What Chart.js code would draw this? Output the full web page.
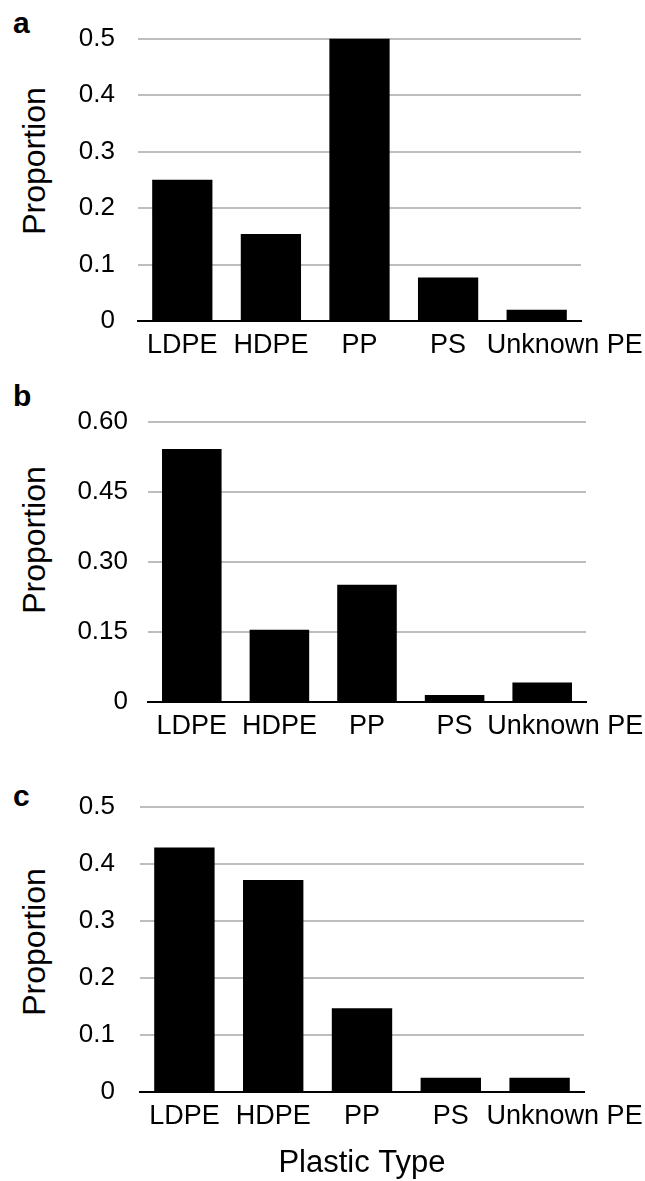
<!DOCTYPE html>
<html>
<head>
<meta charset="utf-8">
<script src="https://cdn.jsdelivr.net/npm/chart.js@4.4.0/dist/chart.umd.min.js"></script>
<style>
  html, body { margin: 0; padding: 0; background: #fff; overflow: hidden; }
  body { width: 645px; height: 1181px; position: relative; font-family: "Liberation Sans", Arial, sans-serif; }
  canvas { position: absolute; left: 0; }
  .tag { position: absolute; left: 13px; font-weight: bold; font-size: 30px; line-height: 30px; color: #000; }
  .ytitle { position: absolute; font-size: 32px; line-height: 32px; white-space: nowrap; color: #000;
            transform: translate(-50%, -50%) rotate(-90deg); }
</style>
</head>
<body>
<div class="tag" style="top:8px">a</div>
<div class="tag" style="top:381px">b</div>
<div class="tag" style="top:781px">c</div>
<div class="ytitle" style="left:34px; top:161px">Proportion</div>
<div class="ytitle" style="left:34px; top:540px">Proportion</div>
<div class="ytitle" style="left:34px; top:942px">Proportion</div>

<canvas id="chartA" width="645" height="370" style="top:0px"></canvas>
<canvas id="chartB" width="645" height="370" style="top:380px"></canvas>
<canvas id="chartC" width="645" height="421" style="top:760px"></canvas>

<script>
// categorias e valores
const categories = ['LDPE', 'HDPE', 'PP', 'PS', 'Unknown PE'];
const valuesA = [0.25, 0.154, 0.5, 0.077, 0.02];
const valuesB = [0.542, 0.155, 0.251, 0.015, 0.042];
const valuesC = [0.429, 0.372, 0.147, 0.025, 0.025];
const ticksA = ['0', '0.1', '0.2', '0.3', '0.4', '0.5'];
const ticksB = ['0', '0.15', '0.30', '0.45', '0.60'];
const ticksC = ['0', '0.1', '0.2', '0.3', '0.4', '0.5'];
const xTitle = 'Plastic Type';

const FONT = '"Liberation Sans", Arial, sans-serif';

// o ultimo rotulo ("Unknown PE") fica deslocado para a direita, como no Excel
const shiftLastLabel = {
    id: 'shiftLastLabel',
    beforeDraw(chart, args, opts) {
        const items = chart.scales.x.getLabelItems();
        const last = items[items.length - 1];
        if (last && !last._shifted) {
            last.options.translation[0] += opts.dx;
            last._shifted = true;
        }
    }
};

function makePanel(id, values, tickLabels, max, step, box, showTitle) {
    const ctx = document.getElementById(id).getContext('2d');
    return new Chart(ctx, {
        type: 'bar',
        data: {
            labels: categories,
            datasets: [{
                data: values,
                backgroundColor: '#000',
                borderWidth: 0,
                categoryPercentage: 1,
                barPercentage: 0.68
            }]
        },
        options: {
            responsive: false,
            animation: false,
            devicePixelRatio: 1,
            layout: { padding: { top: box.top, right: box.right, left: 0, bottom: 0 } },
            plugins: {
                legend: { display: false },
                tooltip: { enabled: false },
                shiftLastLabel: { dx: box.shift }
            },
            scales: {
                x: {
                    grid: { display: false, drawTicks: false },
                    border: { display: true, color: '#000', width: 2 },
                    ticks: {
                        color: '#000', autoSkip: false, maxRotation: 0, padding: 8,
                        font: { family: FONT, size: 27 }
                    },
                    title: {
                        display: showTitle, text: xTitle, color: '#000',
                        padding: 0, font: { family: FONT, size: 31, lineHeight: 1.1 }
                    },
                    afterFit: s => { s.height = box.axisH; }
                },
                y: {
                    min: 0, max: max,
                    grid: {
                        drawTicks: false, lineWidth: 2,
                        color: c => c.tick && c.tick.value === 0 ? 'rgba(0,0,0,0)' : '#bdbdbd'
                    },
                    border: { display: false },
                    ticks: {
                        stepSize: step, color: '#000', padding: box.tickPad,
                        font: { family: FONT, size: 26 },
                        callback: (v, i) => tickLabels[i]
                    },
                    afterFit: s => { s.width = box.left; }
                }
            }
        },
        plugins: [shiftLastLabel]
    });
}

makePanel('chartA', valuesA, ticksA, 0.5, 0.1,
    { top: 35, right: 64, left: 138, axisH: 49, tickPad: 23, shift: 28 }, false);
makePanel('chartB', valuesB, ticksB, 0.6, 0.15,
    { top: 42, right: 59, left: 148, axisH: 48, tickPad: 20, shift: 23 }, false);
makePanel('chartC', valuesC, ticksC, 0.5, 0.1,
    { top: 47, right: 61, left: 140, axisH: 89, tickPad: 25, shift: 25 }, true);
</script>
</body>
</html>
